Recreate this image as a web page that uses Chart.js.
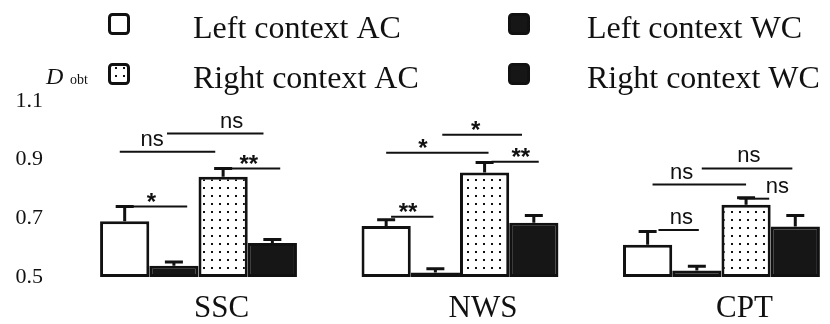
<!DOCTYPE html>
<html>
<head>
<meta charset="utf-8">
<script src="https://cdn.jsdelivr.net/npm/chart.js@4/dist/chart.umd.min.js"></script>
<style>
  body { margin: 0; background: #fff; }
  #wrap { width: 830px; height: 324px; }
</style>
</head>
<body>
<div id="wrap"><canvas id="dobt"></canvas></div>
<script>
// groups on the x axis
var groups = ['SSC', 'NWS', 'CPT'];
var yTicks = [0.5, 0.7, 0.9, 1.1];

// mean D obt per group, one array per condition
var leftAC  = [0.690, 0.674, 0.610];
var leftWC  = [0.538, 0.515, 0.522];
var rightAC = [0.842, 0.856, 0.746];
var rightWC = [0.616, 0.685, 0.672];

// error (upper whisker length)
var leftACErr  = [0.050, 0.021, 0.045];
var leftWCErr  = [0.013, 0.013, 0.015];
var rightACErr = [0.028, 0.034, 0.024];
var rightWCErr = [0.012, 0.025, 0.038];

// significance marks: group, from bar, to bar (bar widths from first bar), level, text
var sigGroup = [0, 0, 0, 0, 1, 1, 1, 1, 2, 2, 2, 2];
var sigFrom  = [-0.1, 0.86, 0.06, 1.88, 0.1, 0.0, 1.14, 2.14, 0.22, 0.1, 1.1, 1.86];
var sigTo    = [1.84, 2.82, 1.27, 3.16, 0.96, 2.08, 2.76, 3.1, 1.04, 2.0, 2.94, 2.47];
var sigLevel = [0.927, 0.989, 0.74, 0.87, 0.705, 0.924, 0.985, 0.893, 0.66, 0.815, 0.87, 0.767];
var sigText  = ['ns', 'ns', '*', '**', '**', '*', '*', '**', 'ns', 'ns', 'ns', 'ns'];
var sigAt    = [0.34, 0.67, 0.4, 0.5, 0.4, 0.36, 0.42, 0.62, 0.57, 0.31, 0.52, 1.27];

function dots() {
    var c = document.createElement('canvas');
    c.width = 8; c.height = 8;
    var g = c.getContext('2d');
    g.fillStyle = '#fff';
    g.fillRect(0, 0, 8, 8);
    g.fillStyle = '#111';
    g.fillRect(3, 3, 2, 2);
    return g.createPattern(c, 'repeat');
}

function pts(vals) {
    var out = [];
    for (var i = 0; i < vals.length; i++) out.push({x: i, y: vals[i]});
    return out;
}

var dotFill = dots();
var errs = [leftACErr, leftWCErr, rightACErr, rightWCErr];

var errorBars = {
    id: 'errorBars',
    afterDatasetsDraw: function(chart) {
        var ctx = chart.ctx, ys = chart.scales.y;
        ctx.save();
        ctx.strokeStyle = '#111';
        ctx.lineWidth = 3;
        chart.data.datasets.forEach(function(ds, d) {
            chart.getDatasetMeta(d).data.forEach(function(bar, i) {
                var top = ys.getPixelForValue(ds.data[i].y + errs[d][i]);
                ctx.beginPath();
                ctx.moveTo(bar.x, bar.y);
                ctx.lineTo(bar.x, top);
                ctx.moveTo(bar.x - 9, top);
                ctx.lineTo(bar.x + 9, top);
                ctx.stroke();
            });
        });
        ctx.restore();
    }
};

var sigMarks = {
    id: 'sigMarks',
    afterDatasetsDraw: function(chart) {
        var ctx = chart.ctx, ys = chart.scales.y;
        ctx.save();
        ctx.strokeStyle = '#111';
        ctx.fillStyle = '#111';
        ctx.lineWidth = 2;
        for (var k = 0; k < sigText.length; k++) {
            var first = chart.getDatasetMeta(0).data[sigGroup[k]];
            var x1 = first.x + sigFrom[k] * first.width;
            var x2 = first.x + sigTo[k] * first.width;
            var y = ys.getPixelForValue(sigLevel[k]);
            ctx.beginPath();
            ctx.moveTo(x1, y);
            ctx.lineTo(x2, y);
            ctx.stroke();
            var tx = x1 + (x2 - x1) * sigAt[k];
            ctx.textAlign = 'center';
            if (sigText[k] == 'ns') {
                ctx.font = '22px "Liberation Sans"';
                ctx.textBaseline = 'alphabetic';
                ctx.fillText('ns', tx, y - 6);
            } else {
                ctx.font = 'bold 24px "Liberation Sans"';
                ctx.textBaseline = 'middle';
                ctx.fillText(sigText[k], tx, y - 3);
            }
        }
        ctx.restore();
    }
};

// 2x2 legend plus the D obt title
var legendBlock = {
    id: 'legendBlock',
    afterDraw: function(chart) {
        var ctx = chart.ctx;
        var colX = [108, 508], textX = [193, 587], rowY = [13, 63];
        ctx.save();
        chart.data.datasets.forEach(function(ds, d) {
            var bx = colX[d % 2], by = rowY[Math.floor(d / 2)];
            ctx.beginPath();
            ctx.roundRect(bx + 1.5, by + 1.5, 19, 19, 3);
            ctx.fillStyle = ds.backgroundColor;
            ctx.fill();
            ctx.lineWidth = 3;
            ctx.strokeStyle = '#111';
            ctx.stroke();
            ctx.fillStyle = '#111';
            ctx.font = '32px "Liberation Serif"';
            ctx.textAlign = 'left';
            ctx.textBaseline = 'alphabetic';
            ctx.fillText(ds.label, textX[d % 2], by + 25);
        });
        ctx.font = 'italic 24px "Liberation Serif"';
        ctx.fillText('D', 46, 84);
        ctx.font = '14px "Liberation Serif"';
        ctx.fillText('obt', 70, 84);
        ctx.restore();
    }
};

function dspChrt() {
    var ctx = document.getElementById('dobt').getContext('2d');
    var common = { borderColor: '#111', borderWidth: 3, borderSkipped: false, base: 0.5 };
    new Chart(ctx, {
        type: 'bar',
        data: {
            datasets: [
                Object.assign({ label: 'Left context AC', data: pts(leftAC), backgroundColor: '#fff' }, common),
                Object.assign({ label: 'Left context WC', data: pts(leftWC), backgroundColor: '#161616' }, common),
                Object.assign({ label: 'Right context AC', data: pts(rightAC), backgroundColor: dotFill }, common),
                Object.assign({ label: 'Right context WC', data: pts(rightWC), backgroundColor: '#161616' }, common)
            ]
        },
        options: {
            responsive: true,
            maintainAspectRatio: false,
            animation: false,
            categoryPercentage: 0.753,
            barPercentage: 1,
            layout: { padding: { top: 101, right: 5, left: 0, bottom: 0 } },
            plugins: { legend: { display: false }, tooltip: { enabled: false } },
            scales: {
                x: {
                    type: 'linear',
                    offset: false,
                    min: -0.568,
                    max: 2.396,
                    grid: { display: false, drawTicks: false, offset: false },
                    border: { display: false },
                    afterBuildTicks: function(s) { s.ticks = groups.map(function(g, i) { return {value: i}; }); },
                    afterFit: function(s) { s.height = 47; },
                    ticks: {
                        padding: 13,
                        labelOffset: 23,
                        color: '#111',
                        font: { family: 'Liberation Serif', size: 31 },
                        callback: function(v) { return groups[v]; }
                    }
                },
                y: {
                    min: 0.5,
                    max: 1.1,
                    grid: { display: false, drawTicks: false },
                    border: { display: false },
                    afterBuildTicks: function(s) { s.ticks = yTicks.map(function(v) { return {value: v}; }); },
                    afterFit: function(s) { s.width = 50; },
                    ticks: {
                        padding: 7,
                        color: '#111',
                        font: { family: 'Liberation Serif', size: 22 },
                        callback: function(v) { return v.toFixed(1); }
                    }
                }
            }
        },
        plugins: [errorBars, sigMarks, legendBlock]
    });
}

dspChrt();
</script>
</body>
</html>
